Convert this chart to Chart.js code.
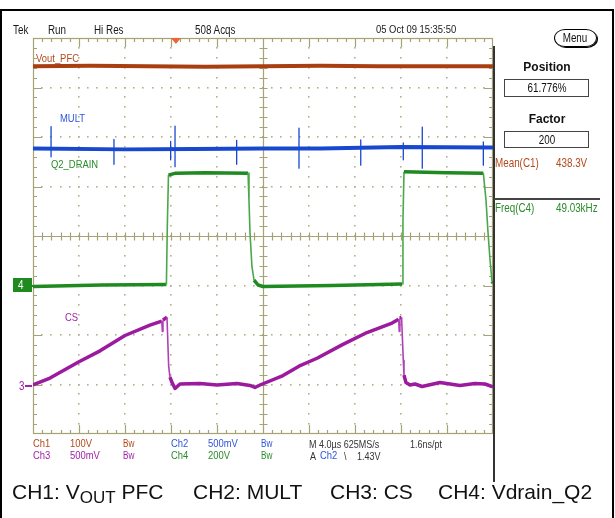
<!DOCTYPE html>
<html><head><meta charset="utf-8">
<script src="https://cdn.jsdelivr.net/npm/chart.js@4/dist/chart.umd.min.js"></script>
<style>
html,body{margin:0;padding:0;background:#fff;}
#wrap{position:relative;width:615px;height:518px;overflow:hidden;background:#fff;}
#c{position:absolute;left:0;top:0;}
.t{position:absolute;white-space:nowrap;line-height:1;transform:translateY(-50%);}
.n{font-family:"Liberation Sans",Arial,sans-serif;transform:translateY(-50%) scaleX(0.82);transform-origin:left center;}
.nc{font-family:"Liberation Sans",Arial,sans-serif;transform:translate(-50%,-50%) scaleX(0.82);transform-origin:center center;}
.b{font-family:"Liberation Sans",Arial,sans-serif;font-weight:bold;transform:translate(-50%,-50%);}
.box{position:absolute;box-sizing:border-box;}
.cap{position:absolute;font-family:"Liberation Sans",Arial,sans-serif;font-size:21px;color:#111;white-space:nowrap;line-height:21px;top:481px;}
.cap .sub{font-size:17px;position:relative;top:4px;}
</style></head>
<body>
<div id="wrap">
<canvas id="c" width="615" height="518"></canvas>
</div>
<script>
// ---- data (time in µs, amplitude in screen divisions) ----
const voutT = [0, 5, 10, 15, 20, 25, 30, 35, 40];
const voutV = [3.43, 3.44, 3.43, 3.42, 3.43, 3.44, 3.43, 3.43, 3.43];

const multT = [0, 8, 14, 20, 25, 32, 40];
const multV = [1.77, 1.75, 1.76, 1.77, 1.77, 1.80, 1.79];
const spikeT  = [1.57, 7.04, 11.97, 12.35, 17.71, 23.13, 28.5, 32.2, 33.85, 39.16];
const spikeHi = [2.21, 1.95, 1.91, 2.22, 1.93, 2.18, 1.94, 1.88, 2.20, 1.90];
const spikeLo = [1.60, 1.45, 1.54, 1.40, 1.45, 1.37, 1.43, 1.54, 1.37, 1.43];

const q2T = [0, 6, 11.6, 11.68, 11.78, 12.4, 15, 18.7, 18.78, 18.87, 19.04, 19.22, 19.57, 20.0, 26, 32.1, 32.17, 32.26, 36, 39.16, 39.22, 39.39, 39.57, 39.74, 39.91, 40];
const q2V = [-1.02, -0.99, -0.98, 0.2, 1.23, 1.27, 1.28, 1.27, 0.73, 0.06, -0.62, -0.89, -0.99, -1.02, -1.0, -0.97, 0.3, 1.30, 1.28, 1.27, 1.13, 0.73, 0.06, -0.48, -0.92, -0.95];

const csT = [0, 1.48, 4.0, 5.83, 8.0, 10.17, 11.2, 11.25, 11.3, 11.65, 11.8, 11.91, 12.09, 12.35, 12.78, 14.52, 16.0, 17.74, 18.87, 19.3, 19.74, 21.74, 23.13, 24.7, 26.87, 29.04, 31.22, 31.8, 31.85, 31.9, 32.05, 32.2, 32.26, 32.43, 32.78, 33.22, 33.83, 35.39, 37.13, 38.43, 39.3, 40];
const csV = [-3.01, -2.87, -2.54, -2.32, -2.01, -1.80, -1.72, -1.93, -1.70, -1.64, -2.64, -2.85, -2.96, -3.08, -2.99, -2.98, -3.01, -2.98, -3.02, -3.06, -3.01, -2.82, -2.63, -2.47, -2.20, -1.95, -1.76, -1.68, -1.93, -1.66, -1.64, -2.51, -2.81, -2.96, -3.01, -2.99, -3.04, -2.96, -3.02, -2.98, -2.99, -3.05];

const xDivisions = [0, 4, 8, 12, 16, 20, 24, 28, 32, 36, 40];
const yDivisions = [-4, -3, -2, -1, 0, 1, 2, 3, 4];
const triggerT = 12.43;

const COL = {
  vout: '#a93f10', mult: '#1848d0', q2: '#1f8a1f', cs: '#9b1a9e',
  voutT: '#b04a1c', multT: '#2f55dc', q2T: '#2a8c2a', csT: '#a222a8'
};

function pts(t, v){ return t.map((x,i)=>({x:x, y:v[i]})); }
function spikePts(){
  const out=[];
  spikeT.forEach((t,i)=>{ out.push({x:t,y:spikeHi[i]}); out.push({x:t,y:spikeLo[i]}); out.push({x:t,y:null}); });
  return out;
}
function steepSeg(color, light){
  return {
    borderWidth: c => (Math.abs(c.p1.y-c.p0.y) > 3*Math.abs(c.p1.x-c.p0.x)+2) ? 1.6 : 3.5,
    borderColor: c => (Math.abs(c.p1.y-c.p0.y) > 3*Math.abs(c.p1.x-c.p0.x)+2) ? light : color
  };
}

const gratPlugin = {
  id: 'grat',
  beforeDatasetsDraw(chart){
    const {ctx, chartArea:a, scales:{x, y}} = chart;
    ctx.save();
    const line = '#a6a276';
    ctx.fillStyle = '#b3b08a';
    xDivisions.forEach((xv,i)=>{
      if (i===0 || i===xDivisions.length-1 || xv===20) return;
      const px = Math.round(x.getPixelForValue(xv));
      for (let k=1;k<40;k++){
        const py = Math.round(y.getPixelForValue(-4 + k*0.2));
        ctx.fillRect(px-1, py-1, 1.6, 1.6);
      }
    });
    yDivisions.forEach((yv,j)=>{
      if (j===0 || j===yDivisions.length-1 || yv===0) return;
      const py = Math.round(y.getPixelForValue(yv));
      for (let k=1;k<50;k++){
        const px = Math.round(x.getPixelForValue(k*0.8));
        ctx.fillRect(px-1, py-1, 1.6, 1.6);
      }
    });
    ctx.strokeStyle = line;
    ctx.lineWidth = 1.2;
    ctx.strokeRect(a.left+0.5, a.top+0.5, a.right-a.left-1, a.bottom-a.top-1);
    const cx = Math.round(x.getPixelForValue(20))+0.5;
    const cy = Math.round(y.getPixelForValue(0))+0.5;
    ctx.beginPath();
    ctx.moveTo(a.left, cy); ctx.lineTo(a.right, cy);
    ctx.moveTo(cx, a.top); ctx.lineTo(cx, a.bottom);
    for (let k=1;k<50;k++){
      const px = Math.round(x.getPixelForValue(k*0.8))+0.5;
      const L = (k%5===0) ? 9 : 4;
      ctx.moveTo(px, a.top); ctx.lineTo(px, a.top+L);
      ctx.moveTo(px, a.bottom); ctx.lineTo(px, a.bottom-L);
      ctx.moveTo(px, cy-4); ctx.lineTo(px, cy+4);
    }
    for (let k=1;k<40;k++){
      const py = Math.round(y.getPixelForValue(-4+k*0.2))+0.5;
      const L = (k%5===0) ? 9 : 4;
      ctx.moveTo(a.left, py); ctx.lineTo(a.left+L, py);
      ctx.moveTo(a.right, py); ctx.lineTo(a.right-L, py);
      ctx.moveTo(cx-4, py); ctx.lineTo(cx+4, py);
    }
    ctx.stroke();
    ctx.restore();
  },
  afterDraw(chart){
    const {ctx, chartArea:a, scales:{x}} = chart;
    const tx = x.getPixelForValue(triggerT);
    ctx.save();
    ctx.fillStyle = '#f06434';
    ctx.beginPath();
    ctx.moveTo(tx-5, a.top); ctx.lineTo(tx+5, a.top); ctx.lineTo(tx, a.top+6); ctx.closePath();
    ctx.fill();
    ctx.restore();
  }
};

new Chart(document.getElementById('c'), {
  type: 'line',
  data: {
    datasets: [
      {data: pts(voutT, voutV), borderColor: COL.vout, borderWidth: 4},
      {data: pts(multT, multV), borderColor: COL.mult, borderWidth: 4},
      {data: spikePts(), borderColor: COL.mult, borderWidth: 1.3, spanGaps: false},
      {data: pts(q2T, q2V), borderColor: COL.q2, borderWidth: 3.5, segment: steepSeg(COL.q2, '#4aa84a')},
      {data: pts(csT, csV), borderColor: COL.cs, borderWidth: 3.5, segment: steepSeg(COL.cs, '#b040b8')}
    ]
  },
  options: {
    responsive: false, animation: false, devicePixelRatio: 1,
    layout: {padding: {left: 33, top: 38, right: 122, bottom: 84}},
    elements: {point: {radius: 0}, line: {tension: 0, borderJoinStyle: 'round'}},
    scales: {
      x: {type: 'linear', min: 0, max: 40, display: false},
      y: {type: 'linear', min: -4, max: 4, display: false}
    },
    plugins: {legend: {display: false}, tooltip: {enabled: false}}
  },
  plugins: [gratPlugin]
});

// ---- text and panel furniture ----
const wrap = document.getElementById('wrap');
function put(text, x, y, cls, size, color, extra){
  const d = document.createElement('div');
  d.className = 't ' + cls;
  d.textContent = text;
  d.style.left = x + 'px'; d.style.top = y + 'px';
  d.style.fontSize = size + 'px'; d.style.color = color;
  if (extra) Object.assign(d.style, extra);
  wrap.appendChild(d); return d;
}
function box(x, y, w, h, st){
  const d = document.createElement('div');
  d.className = 'box';
  Object.assign(d.style, {left:x+'px', top:y+'px', width:w+'px', height:h+'px'}, st);
  wrap.appendChild(d); return d;
}
box(0, 9, 614, 520, {border:'2px solid #000'});
box(493, 46, 2, 436, {background:'#333'});
box(494, 198, 106, 1.5, {background:'#444'});

const topY = 30, tc = '#1a1a1a';
put('Tek', 13, topY, 'n', 12, tc);
put('Run', 48, topY, 'n', 12, tc);
put('Hi Res', 94, topY, 'n', 12, tc);
put('508 Acqs', 195, topY, 'n', 12, tc);
put('05 Oct 09 15:35:50', 376, topY, 'n', 11.5, tc);

box(554, 29, 43, 18, {border:'1px solid #000', borderRadius:'11px / 9px', boxShadow:'1px 1px 0 #000'});
put('Menu', 575, 38, 'nc', 12, '#111');
put('Position', 547, 67, 'b', 12, '#111');
box(504, 79, 85, 18, {border:'1.5px solid #444'});
put('61.776%', 547, 88, 'nc', 12, '#111');
put('Factor', 547, 119, 'b', 12, '#111');
box(504, 131, 85, 17, {border:'1.5px solid #444'});
put('200', 547, 140, 'nc', 12, '#111');
put('Mean(C1)', 495, 163, 'n', 12, COL.voutT);
put('438.3V', 556, 163, 'n', 12, COL.voutT);
put('Freq(C4)', 495, 208, 'n', 12, COL.q2T);
put('49.03kHz', 556, 208, 'n', 12, COL.q2T);

put('Vout_PFC', 36, 59, 'n', 11.5, COL.voutT);
put('MULT', 60, 119, 'n', 11.5, COL.multT);
put('Q2_DRAIN', 51, 165, 'n', 11.5, COL.q2T);
put('CS', 65, 318, 'n', 11.5, COL.csT);

box(13, 278, 19, 14, {background:'#1f8a1f'});
put('4', 18, 285, 'n', 12, '#fff');
box(32, 285, 4, 1.5, {background:'#1f8a1f'});
put('3', 19, 386, 'n', 12, COL.csT);
box(25, 385, 7, 1.5, {background:COL.csT});

const r1 = 444, r2 = 456;
put('Ch1', 33, r1, 'n', 11.5, COL.voutT); put('100V', 70, r1, 'n', 11.5, COL.voutT); put('Bw', 123, r1, 'n', 10, COL.voutT);
put('Ch2', 171, r1, 'n', 11.5, COL.multT); put('500mV', 208, r1, 'n', 11.5, COL.multT); put('Bw', 261, r1, 'n', 10, COL.multT);
put('M 4.0µs 625MS/s', 309, r1, 'n', 11, '#333'); put('1.6ns/pt', 410, r1, 'n', 11, '#333');
put('Ch3', 33, r2, 'n', 11.5, COL.csT); put('500mV', 70, r2, 'n', 11.5, COL.csT); put('Bw', 123, r2, 'n', 10, COL.csT);
put('Ch4', 171, r2, 'n', 11.5, COL.q2T); put('200V', 208, r2, 'n', 11.5, COL.q2T); put('Bw', 261, r2, 'n', 10, COL.q2T);
put('A', 310, r2, 'n', 11, '#333'); put('Ch2', 320, r2, 'n', 11.5, COL.multT); put('\\', 344, r2, 'n', 11, '#333'); put('1.43V', 357, r2, 'n', 11, '#333');

function cap(html, x){ const d=document.createElement('div'); d.className='cap'; d.style.left=x+'px'; d.innerHTML=html; wrap.appendChild(d); }
cap('CH1: V<span class="sub">OUT</span> PFC', 12);
cap('CH2: MULT', 193);
cap('CH3: CS', 330);
cap('CH4: Vdrain_Q2', 438);
</script>
</body></html>
